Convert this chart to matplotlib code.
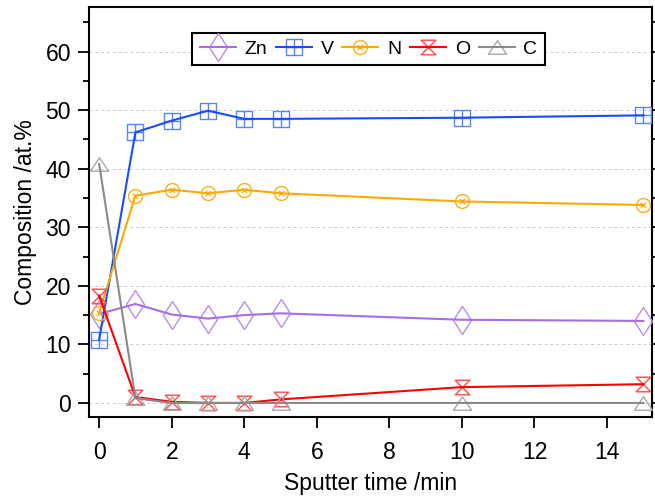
import numpy as np
import matplotlib
matplotlib.use("Agg")
import matplotlib.pyplot as plt
from matplotlib.path import Path
from matplotlib.ticker import MultipleLocator

plt.rcParams['font.family'] = ['Liberation Sans', 'DejaVu Sans']

time = [0, 1, 2, 3, 4, 5, 10, 15]
zn = [15.2, 16.9, 15.1, 14.4, 15.0, 15.3, 14.2, 14.0]
v = [10.8, 46.2, 48.2, 49.9, 48.5, 48.5, 48.7, 49.1]
n = [15.4, 35.4, 36.4, 35.8, 36.4, 35.8, 34.4, 33.8]
o = [18.3, 1.0, 0.2, 0.0, 0.0, 0.6, 2.7, 3.2]
c = [40.8, 0.8, 0.0, 0.0, 0.0, 0.0, 0.0, 0.0]
labels = ['Zn', 'V', 'N', 'O', 'C']

M, L, C = Path.MOVETO, Path.LINETO, Path.CLOSEPOLY
sq_plus = Path([(-1, -1), (1, -1), (1, 1), (-1, 1), (-1, -1),
                (0, -1), (0, 1), (-1, 0), (1, 0)],
               [M, L, L, L, C, M, L, M, L])
xs = 0.38
xlines = Path([(-xs, -xs), (xs, xs), (-xs, xs), (xs, -xs)], [M, L, M, L])
circ = Path.unit_circle()
circ_x = Path.make_compound_path(circ, xlines)
hourglass = Path([(-1, 1), (1, 1), (-1, -1), (1, -1), (-1, 1)], [M, L, L, L, C])
tri = Path([(0, 0.75), (-1, -0.75), (1, -0.75), (0, 0.75)], [M, L, L, C])

series = [
    (zn, '#a56ee8', '#b88cf0', 'd', 14.5),
    (v, '#1a4cff', '#5a85f5', sq_plus, 11),
    (n, '#ffa800', '#ffae14', circ_x, 10),
    (o, '#ff0000', '#ff4a4a', hourglass, 10.5),
    (c, '#8a8a8a', '#a8a8a8', tri, 13),
]

fig = plt.figure(figsize=(6.55, 4.98), dpi=100)
ax = fig.add_axes([89/655, 1-417/498, (652-89)/655, (417-7)/498])

handles = []
for i, ((vals, col, mcol, mk, ms), lab) in enumerate(zip(series, labels)):
    hm, = ax.plot(time, vals, ls='none', marker=mk, ms=ms, mfc='none',
                  mec=mcol, mew=1.0, zorder=3 + i * 0.1)
    hl, = ax.plot(time, vals, color=col, lw=1.5, zorder=3.05 + i * 0.1)
    handles.append((hm, hl))

ax.set_xlim(-0.28, 15.24)
ax.set_ylim(-2.4, 67.6)
ax.xaxis.set_major_locator(MultipleLocator(2))
ax.yaxis.set_minor_locator(MultipleLocator(5))
ax.set_yticks([0, 10, 20, 30, 40, 50, 60])
ax.yaxis.grid(True, which='major', color='#cccccc', ls=(0, (3, 3)), lw=0.7)
ax.set_axisbelow(True)

for sp in ax.spines.values():
    sp.set_linewidth(1.5)
ax.tick_params(axis='both', which='major', direction='out', length=8, width=1.3,
               labelsize=16.5)
ax.tick_params(axis='x', which='major', pad=9)
ax.tick_params(axis='y', which='major', pad=5)
ax.tick_params(axis='y', which='minor', direction='out', length=4.5, width=1.3)
ax.tick_params(axis='y', which='both', right=True, labelright=False)
ax.tick_params(axis='x', which='both', top=False)

ax.set_xlabel('Sputter time /min', fontsize=16.5, labelpad=6)
ax.set_ylabel('Composition /at.%', fontsize=16.5, labelpad=6)

leg = ax.legend(handles, labels, loc='upper center', bbox_to_anchor=(0.4965, 0.937),
                ncol=5, fontsize=14, frameon=True, fancybox=False,
                edgecolor='black', handlelength=1.85, handletextpad=0.45,
                columnspacing=0.45, borderpad=0.38, borderaxespad=0)
leg.get_frame().set_linewidth(1.5)
leg.get_frame().set_alpha(1)

fig.savefig('out.png', dpi=100)
